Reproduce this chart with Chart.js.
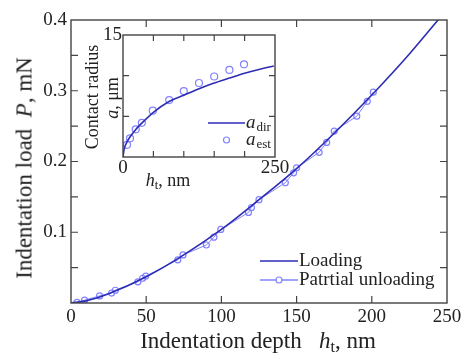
<!DOCTYPE html>
<html>
<head>
<meta charset="utf-8">
<script src="https://cdn.jsdelivr.net/npm/chart.js@4.4.1/dist/chart.umd.min.js"></script>
<style>
  html, body { margin: 0; padding: 0; background: #fff; }
  #wrap { position: relative; width: 468px; height: 359px; font-family: "Liberation Serif", "Times New Roman", serif; color: #222; }
  #mainChart { position: absolute; left: 0; top: 0; }
  #insetChart { position: absolute; left: 80px; top: 22px; }
  .lbl { position: absolute; white-space: nowrap; transform: translate(-50%, -50%); line-height: 1; }
  .rot { transform: translate(-50%, -50%) rotate(-90deg); }
  sub { font-size: 70%; vertical-align: -0.25em; line-height: 0; }
</style>
</head>
<body>
<div id="wrap">
  <canvas id="mainChart" width="468" height="359"></canvas>
  <canvas id="insetChart" width="215" height="165"></canvas>
  <div class="lbl" style="left:258px; top:340px; font-size:23px;">Indentation depth&nbsp;&nbsp; <i>h</i><sub>t</sub>, nm</div>
  <div class="lbl rot" style="left:24px; top:168px; font-size:23px;">Indentation load&nbsp; <i>P</i>, mN</div>
  <div class="lbl rot" style="left:92px; top:97px; font-size:18px;">Contact radius</div>
  <div class="lbl rot" style="left:112px; top:98px; font-size:18px;"><i>a</i>, μm</div>
  <div class="lbl" style="left:168px; top:180px; font-size:18px;"><i>h</i><sub>t</sub>, nm</div>
</div>
<script>
// main plot: load vs depth
const loadDepth = [0, 10, 25, 50, 75, 100, 125, 150, 175, 200, 225, 246];
const loadForce = [0, 0.003, 0.013, 0.037, 0.068, 0.104, 0.146, 0.190, 0.240, 0.294, 0.352, 0.405];

const unloadDepth = [4, 9, 19, 27, 29.5, 44.5, 47.6, 49.7, 71, 74.5, 90, 95, 99.6, 118, 120, 125, 142.5, 148, 150, 165, 170, 175, 190, 197, 201];
const unloadForce = [0.001, 0.004, 0.010, 0.014, 0.018, 0.030, 0.035, 0.038, 0.061, 0.068, 0.082, 0.093, 0.104, 0.128, 0.135, 0.146, 0.170, 0.184, 0.191, 0.213, 0.227, 0.243, 0.264, 0.285, 0.298];

// inset: contact radius vs depth
const aDirDepth = [0, 2, 5, 10, 20, 30, 50, 75, 100, 125, 150, 175, 200, 225, 248];
const aDir = [0, 1.0, 1.6, 2.3, 3.3, 4.1, 5.5, 6.8, 7.6, 8.4, 9.1, 9.7, 10.3, 10.8, 11.2];

const aEstDepth = [6.6, 11.5, 21, 31, 49, 76, 100, 125, 150, 175, 199];
const aEst = [1.5, 2.3, 3.4, 4.2, 5.7, 7.0, 8.1, 9.1, 9.9, 10.7, 11.4];

const mainXTicks = [0, 50, 100, 150, 200, 250];
const mainYLabels = ["0.1", "0.2", "0.3", "0.4"];
const insetXTicks = [0, 50, 100, 150, 200, 250];

const darkBlue = "#2d2db4";
const lightBlue = "#8282ff";
const frameColor = "#444";
const serif = "'Liberation Serif', 'Times New Roman', serif";

function toPoints(xs, ys) {
  return xs.map((x, i) => ({ x: x, y: ys[i] }));
}

// frame + inward ticks on all four sides
const frameTicks = {
  id: "frameTicks",
  afterDraw(chart, args, opts) {
    const ctx = chart.ctx;
    const a = chart.chartArea;
    const len = opts.len || 7;
    ctx.save();
    ctx.strokeStyle = frameColor;
    ctx.lineWidth = 1.4;
    ctx.strokeRect(a.left, a.top, a.right - a.left, a.bottom - a.top);
    ctx.lineWidth = 1.2;
    ctx.beginPath();
    chart.scales.x.ticks.forEach((t) => {
      const px = chart.scales.x.getPixelForValue(t.value);
      if (px <= a.left + 1 || px >= a.right - 1) return;
      ctx.moveTo(px, a.bottom); ctx.lineTo(px, a.bottom - len);
      ctx.moveTo(px, a.top); ctx.lineTo(px, a.top + len);
    });
    chart.scales.y.ticks.forEach((t) => {
      const py = chart.scales.y.getPixelForValue(t.value);
      if (py <= a.top + 1 || py >= a.bottom - 1) return;
      ctx.moveTo(a.left, py); ctx.lineTo(a.left + len, py);
      ctx.moveTo(a.right, py); ctx.lineTo(a.right - len, py);
    });
    ctx.stroke();
    ctx.restore();
  },
};

// hand-drawn legends (line sample, circle sample, text)
const plotLegend = {
  id: "plotLegend",
  afterDraw(chart, args, opts) {
    if (!opts.items) return;
    const ctx = chart.ctx;
    const a = chart.chartArea;
    ctx.save();
    opts.items.forEach((it) => {
      const x0 = a.right - it.dx;
      const y = a.bottom - it.dy;
      if (it.line) {
        ctx.strokeStyle = it.color;
        ctx.lineWidth = 1.4;
        ctx.beginPath();
        ctx.moveTo(x0, y);
        ctx.lineTo(x0 + opts.lineLen, y);
        ctx.stroke();
      }
      if (it.circle) {
        ctx.strokeStyle = it.color;
        ctx.fillStyle = "#fff";
        ctx.lineWidth = 1.2;
        ctx.beginPath();
        ctx.arc(x0 + opts.lineLen / 2, y, 3, 0, Math.PI * 2);
        ctx.fill();
        ctx.stroke();
      }
      ctx.fillStyle = "#222";
      ctx.textBaseline = "middle";
      let tx = x0 + opts.lineLen + 1;
      if (it.italic) {
        ctx.font = "italic " + opts.size + "px " + serif;
        ctx.fillText(it.italic, tx, y);
        tx += ctx.measureText(it.italic).width + 1;
        ctx.font = Math.round(opts.size * 0.7) + "px " + serif;
        ctx.fillText(it.sub, tx, y + 5);
      } else {
        ctx.font = opts.size + "px " + serif;
        ctx.fillText(it.text, tx, y);
      }
    });
    ctx.restore();
  },
};

function drawMain() {
  new Chart(document.getElementById("mainChart"), {
    type: "line",
    data: {
      datasets: [
        {
          label: "Loading",
          data: toPoints(loadDepth, loadForce),
          borderColor: darkBlue,
          borderWidth: 1.6,
          pointRadius: 0,
          cubicInterpolationMode: "monotone",
          order: 1,
        },
        {
          label: "Patrtial unloading",
          data: toPoints(unloadDepth, unloadForce),
          borderColor: lightBlue,
          borderWidth: 1,
          pointRadius: 3,
          pointBorderWidth: 1.2,
          pointBorderColor: lightBlue,
          pointBackgroundColor: "rgba(255,255,255,0)",
          order: 2,
        },
      ],
    },
    options: {
      responsive: false,
      animation: false,
      layout: { padding: { top: 20, right: 21, left: 0, bottom: 0 } },
      plugins: {
        legend: { display: false },
        tooltip: { enabled: false },
        frameTicks: { len: 7 },
        plotLegend: {
          size: 19,
          lineLen: 38,
          items: [
            { text: "Loading", color: darkBlue, line: true, dx: 187, dy: 42 },
            { text: "Patrtial unloading", color: lightBlue, line: true, circle: true, dx: 187, dy: 23 },
          ],
        },
      },
      scales: {
        x: {
          type: "linear",
          min: 0,
          max: 250,
          afterBuildTicks: (s) => { s.ticks = mainXTicks.map((v) => ({ value: v })); },
          afterFit: (s) => { s.height = 56; },
          grid: { display: false, drawTicks: false },
          border: { display: false },
          ticks: { color: "#222", padding: 3, maxRotation: 0, autoSkip: false, font: { family: serif, size: 19 } },
        },
        y: {
          type: "linear",
          min: 0,
          max: 0.4,
          afterFit: (s) => { s.width = 71; },
          grid: { display: false, drawTicks: false },
          border: { display: false },
          ticks: {
            stepSize: 0.05,
            color: "#222",
            padding: 4,
            autoSkip: false,
            font: { family: serif, size: 19 },
            callback: (v) => {
              const lbl = v.toFixed(1);
              return Math.abs(v * 10 - Math.round(v * 10)) < 1e-6 && mainYLabels.includes(lbl) ? lbl : "";
            },
          },
        },
      },
    },
    plugins: [frameTicks, plotLegend],
  });
}

function drawInset() {
  new Chart(document.getElementById("insetChart"), {
    type: "line",
    data: {
      datasets: [
        {
          label: "a_dir",
          data: toPoints(aDirDepth, aDir),
          borderColor: darkBlue,
          borderWidth: 1.6,
          pointRadius: 0,
          cubicInterpolationMode: "monotone",
        },
        {
          label: "a_est",
          data: toPoints(aEstDepth, aEst),
          showLine: false,
          pointRadius: 3.5,
          pointBorderWidth: 1.2,
          pointBorderColor: lightBlue,
          pointBackgroundColor: "rgba(255,255,255,0)",
        },
      ],
    },
    options: {
      responsive: false,
      animation: false,
      layout: { padding: { top: 13, right: 20, left: 0, bottom: 0 } },
      plugins: {
        legend: { display: false },
        tooltip: { enabled: false },
        frameTicks: { len: 6 },
        plotLegend: {
          size: 19,
          lineLen: 37,
          items: [
            { italic: "a", sub: "dir", color: darkBlue, line: true, dx: 67, dy: 34 },
            { italic: "a", sub: "est", color: lightBlue, circle: true, dx: 67, dy: 17 },
          ],
        },
      },
      scales: {
        x: {
          type: "linear",
          min: 0,
          max: 250,
          afterBuildTicks: (s) => { s.ticks = insetXTicks.map((v) => ({ value: v })); },
          afterFit: (s) => { s.height = 30; },
          grid: { display: false, drawTicks: false },
          border: { display: false },
          ticks: {
            color: "#222",
            padding: 0,
            maxRotation: 0,
            autoSkip: false,
            font: { family: serif, size: 19 },
            callback: (v) => (v === 0 || v === 250 ? String(v) : ""),
          },
        },
        y: {
          type: "linear",
          min: 0,
          max: 15,
          afterFit: (s) => { s.width = 43; },
          grid: { display: false, drawTicks: false },
          border: { display: false },
          ticks: {
            stepSize: 5,
            color: "#222",
            padding: 1,
            autoSkip: false,
            font: { family: serif, size: 19 },
            callback: (v) => (v === 15 ? "15" : ""),
          },
        },
      },
    },
    plugins: [frameTicks, plotLegend],
  });
}

document.fonts.load('19px "Liberation Serif"').then(() => {
  drawMain();
  drawInset();
});
</script>
</body>
</html>
